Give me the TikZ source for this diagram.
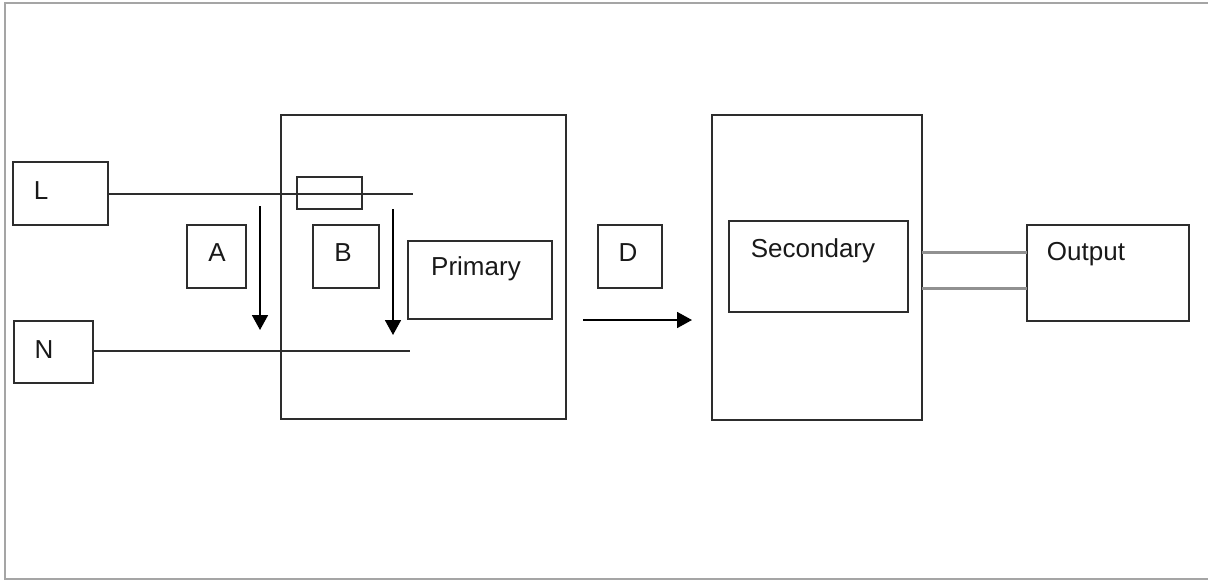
\documentclass[tikz,border=0pt]{standalone}
\usepackage{fontspec}
\setmainfont{Liberation Sans}
\usetikzlibrary{arrows.meta}
\definecolor{boxline}{RGB}{45,45,45}
\definecolor{frameline}{RGB}{165,165,165}
\definecolor{outline}{RGB}{145,145,145}
\definecolor{txt}{RGB}{25,25,25}
\tikzset{
  box/.style={draw=boxline, line width=1.5pt, inner sep=0pt, outer sep=0pt, rectangle},
  lbl/.style={inner sep=0pt, anchor=base, text=txt, font=\fontsize{26}{31}\selectfont},
  wire/.style={draw=boxline, line width=1.4pt},
  grwire/.style={draw=outline, line width=3pt},
  flow/.style={draw=black, line width=1.8pt, -{Triangle[length=15pt,width=16pt]}},
  frame/.style={draw=frameline, line width=2.2pt}
}
\begin{document}
\begin{tikzpicture}[x=1pt,y=-1pt]
\useasboundingbox (0,0) rectangle (1208,581);
% outer frame (right side beyond the picture)
\coordinate (fTR) at (1210,3);
\coordinate (fTL) at (5,3);
\coordinate (fBL) at (5,579);
\coordinate (fBR) at (1210,579);
\draw[frame] (fTR) -- (fTL) -- (fBL) -- (fBR);

% boxes
\node[box, minimum width=95, minimum height=63] (L) at (60.5,193.5) {};
\node[box, minimum width=79, minimum height=62] (N) at (53.5,352) {};
\node[box, minimum width=59, minimum height=63] (A) at (216.5,256.5) {};
\node[box, minimum width=66, minimum height=63] (B) at (346,256.5) {};
\node[box, minimum width=285, minimum height=304] (P1) at (423.5,267) {};
\node[box, minimum width=65, minimum height=32] (fuse) at (329.5,193) {};
\node[box, minimum width=144, minimum height=78] (Prim) at (480,280) {};
\node[box, minimum width=64, minimum height=63] (D) at (630,256.5) {};
\node[box, minimum width=210, minimum height=305] (P2) at (817,267.5) {};
\node[box, minimum width=179, minimum height=91] (Sec) at (818.5,266.5) {};
\node[box, minimum width=162, minimum height=96] (Out) at (1108,273) {};

% labels
\node[lbl] (tL) at (41,199) {L};
\node[lbl] (tN) at (44,358) {N};
\node[lbl] (tA) at (217,261) {A};
\node[lbl] (tB) at (343,261) {B};
\node[lbl] (tP) at (476,275) {Primary};
\node[lbl] (tD) at (628,261) {D};
\node[lbl] (tS) at (813,257) {Secondary};
\node[lbl] (tO) at (1086,260) {Output};

% wires
\coordinate (Lend) at (413,194);
\coordinate (Nend) at (410,351);
\draw[wire] (L.east |- Lend) -- (Lend);
\draw[wire] (N.east |- Nend) -- (Nend);

% output wires
\draw[grwire] (P2.east |- 0,252) -- (Out.west |- 0,252);
\draw[grwire] (P2.east |- 0,288) -- (Out.west |- 0,288);

% flow arrows
\coordinate (a1) at (260,206);
\coordinate (a2) at (260,330);
\coordinate (b1) at (393,209);
\coordinate (b2) at (393,335);
\coordinate (d1) at (583,320);
\coordinate (d2) at (692,320);
\draw[flow] (a1) -- (a2);
\draw[flow] (b1) -- (b2);
\draw[flow] (d1) -- (d2);
\end{tikzpicture}
\end{document}
